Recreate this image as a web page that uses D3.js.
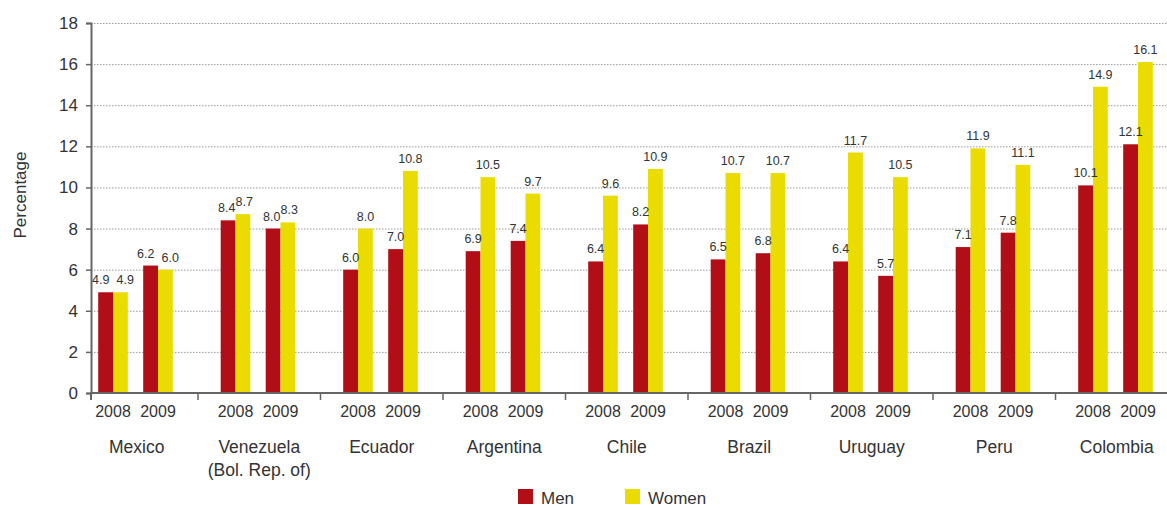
<!DOCTYPE html>
<html>
<head>
<meta charset="utf-8">
<script src="https://cdn.jsdelivr.net/npm/d3@7"></script>
<style>
  body { margin: 0; background: #fff; }
  svg text { font-family: "Liberation Sans", Arial, sans-serif; fill: #333; }
</style>
</head>
<body>
<svg id="chart" width="1167" height="508"></svg>
<script>
// data
var countries = ['Mexico', 'Venezuela\n(Bol. Rep. of)', 'Ecuador', 'Argentina', 'Chile', 'Brazil', 'Uruguay', 'Peru', 'Colombia'];
var years = ['2008', '2009'];
var seriesNames = ['Men', 'Women'];
var men2008   = [4.9, 8.4, 6.0, 6.9, 6.4, 6.5, 6.4, 7.1, 10.1];
var women2008 = [4.9, 8.7, 8.0, 10.5, 9.6, 10.7, 11.7, 11.9, 14.9];
var men2009   = [6.2, 8.0, 7.0, 7.4, 8.2, 6.8, 5.7, 7.8, 12.1];
var women2009 = [6.0, 8.3, 10.8, 9.7, 10.9, 10.7, 10.5, 11.1, 16.1];
var yTicks = [0, 2, 4, 6, 8, 10, 12, 14, 16, 18];

var colors = { Men: '#b20e17', Women: '#ebdc00' };

// build rows
var rows = [];
countries.forEach(function (c, i) {
  rows.push({ country: c, year: '2008', Men: men2008[i], Women: women2008[i] });
  rows.push({ country: c, year: '2009', Men: men2009[i], Women: women2009[i] });
});

var svg = d3.select('#chart');
var axisX = 91, plotRight = 1167;
var groupStep = 122.5, groupStart = 75.5;

var y = d3.scaleLinear().domain([0, 18]).range([393, 23]);

var xGroup = d3.scaleBand()
  .domain(countries)
  .range([groupStart, groupStart + groupStep * countries.length])
  .padding(0);

var xYear = d3.scaleBand()
  .domain(years)
  .range([15, 105])
  .padding(0);

var xSeries = d3.scaleBand()
  .domain(seriesNames)
  .range([xYear.bandwidth() / 2 - 14.8, xYear.bandwidth() / 2 + 14.8])
  .padding(0);

// gridlines
svg.append('g')
  .selectAll('line')
  .data(yTicks.filter(function (d) { return d > 0; }))
  .join('line')
    .attr('x1', axisX)
    .attr('x2', plotRight)
    .attr('y1', function (d) { return y(d) + 0.5; })
    .attr('y2', function (d) { return y(d) + 0.5; })
    .attr('stroke', '#9a9a9a')
    .attr('stroke-width', 1)
    .attr('stroke-dasharray', '1.5,1.5');

// bars
var yearG = svg.append('g')
  .selectAll('g')
  .data(rows)
  .join('g')
    .attr('transform', function (d) { return 'translate(' + (xGroup(d.country) + xYear(d.year)) + ',0)'; });

yearG.selectAll('rect')
  .data(function (d) { return seriesNames.map(function (s) { return { s: s, v: d[s] }; }); })
  .join('rect')
    .attr('x', function (d) { return xSeries(d.s); })
    .attr('width', xSeries.bandwidth())
    .attr('y', function (d) { return y(d.v); })
    .attr('height', function (d) { return y(0) - y(d.v); })
    .attr('fill', function (d) { return colors[d.s]; });

// value labels, pushed sideways when the two labels of a pair collide
function labelShift(row) {
  var dy = Math.abs(y(row.Men) - y(row.Women));
  var minDist = dy < 6 ? 24.5 : (dy < 13 ? 17.5 : 0);
  var dist = xSeries.bandwidth();
  return dist < minDist ? (minDist - dist) / 2 : 0;
}

yearG.selectAll('text')
  .data(function (d) {
    var sh = labelShift(d);
    return seriesNames.map(function (s, i) { return { s: s, v: d[s], dx: i ? sh : -sh }; });
  })
  .join('text')
    .attr('x', function (d) { return xSeries(d.s) + xSeries.bandwidth() / 2 + d.dx; })
    .attr('y', function (d) { return y(d.v) - 8; })
    .attr('text-anchor', 'middle')
    .style('font-size', '12.5px')
    .text(function (d) { return d.v.toFixed(1); });

// y axis
var yAxis = svg.append('g')
  .attr('transform', 'translate(' + axisX + ',0)')
  .call(d3.axisLeft(y).tickValues(yTicks).tickSize(5).tickPadding(8));
yAxis.select('.domain').attr('stroke', '#666').attr('stroke-width', 2);
yAxis.selectAll('.tick line').attr('stroke', '#666').attr('stroke-width', 1.5);
yAxis.selectAll('.tick text').style('font-size', '17px').attr('fill', '#333');

// x axis baseline
svg.append('line')
  .attr('x1', axisX - 1).attr('x2', plotRight)
  .attr('y1', y(0)).attr('y2', y(0))
  .attr('stroke', '#666').attr('stroke-width', 2);

// group separator ticks
svg.append('g')
  .selectAll('line')
  .data(countries.slice(1))
  .join('line')
    .attr('x1', function (d) { return xGroup(d); })
    .attr('x2', function (d) { return xGroup(d); })
    .attr('y1', y(0))
    .attr('y2', y(0) + 7)
    .attr('stroke', '#666')
    .attr('stroke-width', 1.5);
svg.append('line')
  .attr('x1', axisX).attr('x2', axisX)
  .attr('y1', y(0)).attr('y2', y(0) + 7)
  .attr('stroke', '#666').attr('stroke-width', 2);

// year labels
svg.append('g')
  .selectAll('text')
  .data(rows)
  .join('text')
    .attr('x', function (d) { return xGroup(d.country) + xYear(d.year) + xYear.bandwidth() / 2; })
    .attr('y', 417)
    .attr('text-anchor', 'middle')
    .style('font-size', '16px')
    .text(function (d) { return d.year; });

// country labels
var cLab = svg.append('g')
  .selectAll('text')
  .data(countries)
  .join('text')
    .attr('x', function (d) { return xGroup(d) + xGroup.bandwidth() / 2; })
    .attr('y', 453)
    .attr('text-anchor', 'middle')
    .style('font-size', '17.5px');
cLab.selectAll('tspan')
  .data(function (d) { return d.split('\n'); })
  .join('tspan')
    .attr('x', function () { return this.parentNode.getAttribute('x'); })
    .attr('dy', function (d, i) { return i ? 23 : 0; })
    .text(function (d) { return d; });

// y title
svg.append('text')
  .attr('transform', 'translate(26,195) rotate(-90)')
  .attr('text-anchor', 'middle')
  .style('font-size', '17px')
  .text('Percentage');

// legend
var legendX = d3.scaleOrdinal().domain(seriesNames).range([518, 625]);
var leg = svg.append('g')
  .selectAll('g')
  .data(seriesNames)
  .join('g')
    .attr('transform', function (d) { return 'translate(' + legendX(d) + ',489)'; });
leg.append('rect')
  .attr('width', 15).attr('height', 15)
  .attr('fill', function (d) { return colors[d]; });
leg.append('text')
  .attr('x', 23).attr('y', 15)
  .style('font-size', '17px')
  .text(function (d) { return d; });
</script>
</body>
</html>
